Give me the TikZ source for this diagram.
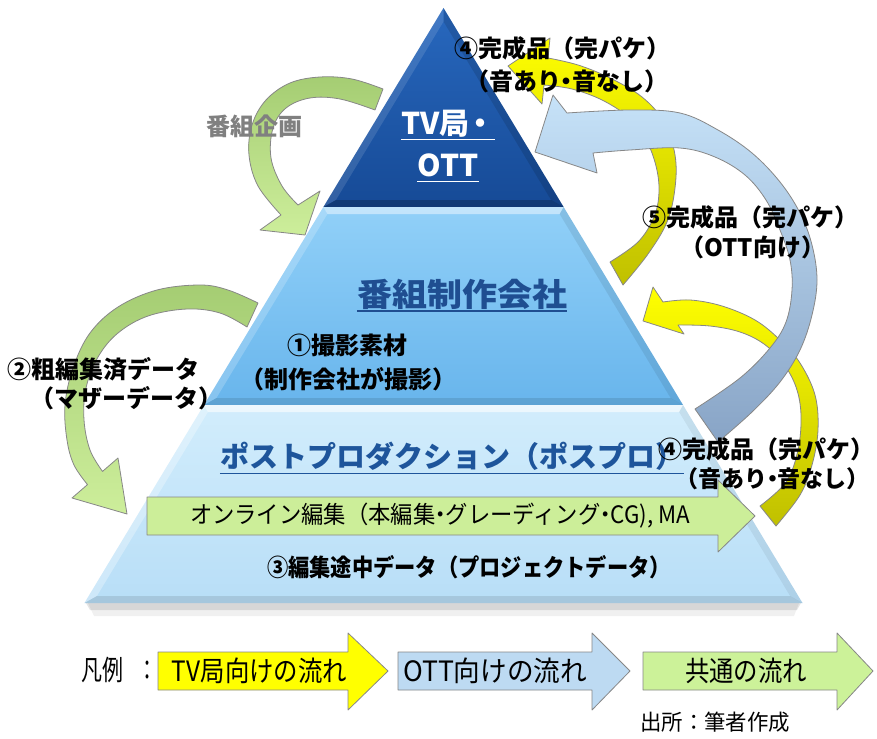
\documentclass[tikz,border=0pt]{standalone}
\usepackage{fontspec}
\usepackage{graphicx}
\newfontfamily\jp{Noto Sans CJK JP}
\newcommand{\nd}{\hspace{-0.27em}・\hspace{-0.27em}}
\usetikzlibrary{calc}
\definecolor{triA}{RGB}{40,104,190}
\definecolor{triB}{RGB}{22,74,150}
\definecolor{midA}{RGB}{145,208,248}
\definecolor{midB}{RGB}{104,181,236}
\definecolor{botA}{RGB}{210,237,252}
\definecolor{botB}{RGB}{184,222,247}
\definecolor{arrgray}{RGB}{135,135,135}
\definecolor{grnA}{RGB}{165,205,115}
\definecolor{grnB}{RGB}{205,238,155}
\definecolor{grnF}{RGB}{204,238,153}
\definecolor{grnL}{RGB}{204,242,153}
\definecolor{yelA}{RGB}{255,255,0}
\definecolor{yelB}{RGB}{192,192,0}
\definecolor{bluA}{RGB}{198,226,248}
\definecolor{bluB}{RGB}{136,164,198}
\definecolor{bluL}{RGB}{189,218,242}
\definecolor{txtblue}{RGB}{31,78,145}
\definecolor{txtblue2}{RGB}{30,85,155}
\definecolor{txtgray}{RGB}{128,128,128}
\begin{document}
\begin{tikzpicture}[x=1pt,y=-1pt,
  arr/.style={draw=arrgray, line width=0.8pt, line join=round},
  lbl/.style={inner sep=0pt, font=\jp\bfseries\fontsize{24}{28}\selectfont},
  big/.style={inner sep=0pt, font=\jp\bfseries\fontsize{#1}{#1}\selectfont},
  reg/.style={inner sep=0pt, font=\jp\fontsize{#1}{#1}\selectfont},
  uline/.style={line width=1.4pt}]
\useasboundingbox (0,0) rectangle (877,738);
\fill[white] (0,0) rectangle (877,738);

% ---------- pyramid ----------
\coordinate (P0) at (443.5,8);
\coordinate (L1) at (323.4,207); \coordinate (R1) at (563.6,207);
\coordinate (L2) at (204,405);   \coordinate (R2) at (683,405);
\coordinate (L3) at (84.5,603);  \coordinate (R3) at (802.5,603);
% shadow
\fill[black,opacity=0.06] (88,603) -- (799,603) -- (794,616) -- (94,616) -- cycle;
\fill[black,opacity=0.10] (86,603) -- (801,603) -- (797,610) -- (90,610) -- cycle;
% top triangle
\path[top color=triA, bottom color=triB] (P0) -- (R1) -- (L1) -- cycle;
\fill[white,opacity=0.12] (P0) -- (443.5,21.6) -- (335.9,200) -- (L1) -- cycle;
\fill[black,opacity=0.12] (P0) -- (R1) -- (551.1,200) -- (443.5,21.6) -- cycle;
\fill[black,opacity=0.22] (L1) -- (335.9,200) -- (551.1,200) -- (R1) -- cycle;
% middle layer
\path[top color=midA, bottom color=midB] (L1) -- (R1) -- (R2) -- (L2) -- cycle;
\fill[white,opacity=0.45] (L1) -- (R1) -- (559.6,214) -- (327.4,214) -- cycle;
\fill[white,opacity=0.20] (L1) -- (327.4,214) -- (216.4,398) -- (L2) -- cycle;
\fill[black,opacity=0.08] (R1) -- (R2) -- (670.6,398) -- (559.6,214) -- cycle;
\fill[black,opacity=0.10] (L2) -- (216.4,398) -- (670.6,398) -- (R2) -- cycle;
% bottom layer
\path[top color=botA, bottom color=botB] (L2) -- (R2) -- (R3) -- (L3) -- cycle;
\fill[white,opacity=0.60] (L2) -- (R2) -- (679.1,412) -- (207.9,412) -- cycle;
\fill[white,opacity=0.30] (L2) -- (207.9,412) -- (96.9,596) -- (L3) -- cycle;
\fill[black,opacity=0.06] (R2) -- (R3) -- (790.1,596) -- (679.1,412) -- cycle;
\fill[black,opacity=0.10] (L3) -- (96.9,596) -- (790.1,596) -- (R3) -- cycle;

% ---------- green horizontal arrow ----------
\draw[arr, fill=grnF] (147,497) -- (718,497) -- (718,480) -- (755,516) -- (718,552) -- (718,535) -- (147,535) -- cycle;

% ---------- curved arrows ----------
% A: programme planning (green)
\draw[arr, top color=grnA, bottom color=grnB]
  plot[smooth, tension=0.6] coordinates {(383,89) (352,79) (320,77) (290,83) (266,100) (252,125) (249,155) (258,186) (281,215)}
  -- (260,230) -- (305,235) -- (320,191)
  -- plot[smooth, tension=0.6] coordinates {(298,205) (282,186) (271,158) (273,128) (286,108) (310,98) (340,99) (375,110)}
  -- cycle;
% B: rough-edit data (green)
\draw[arr, top color=grnA, bottom color=grnB]
  plot[smooth, tension=0.6] coordinates {(258,303) (228,290) (200,285) (157,290) (118,307) (90,333) (73,368) (65,405) (67,440) (74,465) (87.5,484.6)}
  -- (72,498) -- (127,514) -- (118,458)
  -- plot[smooth, tension=0.6] coordinates {(102.5,471.4) (90,450) (84,420) (86,388) (98,357) (118,333) (148,316) (187,309) (220,313) (247,327)}
  -- cycle;
% C: finished product to TV (yellow, top)
\draw[arr, top color=yelA, bottom color=yelB]
  plot[smooth, tension=0.6] coordinates {(623,285) (648,254) (667,222) (675,188) (675,155) (664,122) (642,97) (610,78) (578,65) (548,58)}
  -- (550,38) -- (508,66) -- (542,104)
  -- plot[smooth, tension=0.6] coordinates {(544,85) (572,89) (602,100) (628,117) (646,140) (656,166) (659,192) (654,217) (638,242) (610,262)}
  -- cycle;
% E: finished product to production company (yellow, lower)
\draw[arr, top color=yelA, bottom color=yelB]
  plot[smooth, tension=0.6] coordinates {(776,526) (800,495) (812,465) (818,430) (815,395) (800,363) (780,340) (755,320) (722,306) (690,300) (663,302)}
  -- (653,287) -- (643,321) -- (684,334)
  -- plot[smooth, tension=0.6] coordinates {(678,325) (710,326) (740,332) (764,344) (783,363) (796,387) (801,415) (798,450) (786,482) (760,506)}
  -- cycle;
% D: finished product for OTT (blue)
\draw[arr, top color=bluA, bottom color=bluB]
  plot[smooth, tension=0.6] coordinates {(718,442) (752,412) (780,382) (800,350) (812,315) (817,280) (812,245) (800,213) (780,182) (752,153) (718,130) (680,113) (630,110) (567,113)}
  -- (553,95) -- (535,152) -- (597,173)
  -- plot[smooth, tension=0.6] coordinates {(593,153) (630,150) (680,148) (715,157) (745,175) (766,200) (780,230) (790,260) (792,290) (786,322) (770,348) (740,378) (695,409)}
  -- cycle;

% ---------- pyramid texts ----------
\node[big=30, text=white] (tv) at (448,124) {TV局\hspace{-0.15em}・};
\node[big=30, text=white] (ott) at (448,165) {OTT};
\draw[white, uline] ([yshift=-5pt]tv.base west) -- ([yshift=-5pt]tv.base east);
\draw[white, uline] ([yshift=-5.5pt]ott.base west) -- ([yshift=-5.5pt]ott.base east);
\node[big=32, text=txtblue] (prod) at (462,294) {\resizebox{210pt}{\height}{番組制作会社}};
\draw[txtblue, uline] ([yshift=-5pt]prod.base west) -- ([yshift=-5pt]prod.base east);
\node[big=29, text=txtblue2] (post) at (452,456) {ポストプロダクション（ポスプロ）};
\draw[txtblue2, uline] ([yshift=-6pt]post.base west) -- ([yshift=-6pt]post.base east);
\node[lbl, anchor=west] (c1a) at (287,345) {①撮影素材};
\node[lbl, anchor=west] (c1b) at (240,379) {（制作会社が撮影）};
\node[reg=24] (online) at (440,516) {\resizebox{500pt}{\height}{オンライン編集（本編集\nd グレーディング\nd CG), MA}};
\node[big=24] (c3) at (469,567) {\resizebox{404pt}{\height}{③編集途中データ（プロジェクトデータ）}};

% ---------- arrow labels ----------
\node[lbl, anchor=west] (c4a) at (454,48) {④完成品（完パケ）};
\node[lbl, anchor=west] (c4b) at (465,81) {（音あり\nd 音なし）};
\node[lbl, anchor=west, text=txtgray] (plan) at (206,126) {番組企画};
\node[lbl, anchor=west] (c5a) at (642,217) {⑤完成品（完パケ）};
\node[lbl, anchor=west] (c5b) at (680,247) {（OTT向け）};
\node[lbl, anchor=west] (c2a) at (7,369) {②粗編集済データ};
\node[lbl, anchor=west] (c2b) at (30,398) {（マザーデータ）};
\node[lbl, anchor=west] (c4c) at (658,449) {④完成品（完パケ）\hspace{-0.45em}};
\node[lbl, anchor=west, font=\jp\bfseries\fontsize{23}{27}\selectfont] (c4d) at (675,479) {（音あり\nd 音なし）\hspace{-0.45em}};

% ---------- legend ----------
\node[reg=28, anchor=west] (leg) at (81,670) {\resizebox{42pt}{\height}{凡例}\hspace{14pt}\resizebox{20pt}{\height}{：}};
\draw[arr, fill=yelA] (158,652) -- (348,652) -- (348,633) -- (388,671) -- (348,710) -- (348,690) -- (158,690) -- cycle;
\draw[arr, fill=bluL] (398,652) -- (592,652) -- (592,633) -- (630,671) -- (592,710) -- (592,690) -- (398,690) -- cycle;
\draw[arr, fill=grnL] (643,652) -- (837,652) -- (837,633) -- (873,671) -- (837,710) -- (837,690) -- (643,690) -- cycle;
\node[reg=28] (legtv) at (259.5,671) {\resizebox{175pt}{\height}{TV局向けの流れ}};
\node[reg=28] (legott) at (495,671) {\resizebox{184pt}{\height}{OTT向けの流れ}};
\node[reg=28] (legcom) at (746,671) {\resizebox{122pt}{\height}{共通の流れ}};
\node[reg=22, anchor=west] (src) at (640,722) {\resizebox{150pt}{\height}{出所：筆者作成}};
\end{tikzpicture}
\end{document}
